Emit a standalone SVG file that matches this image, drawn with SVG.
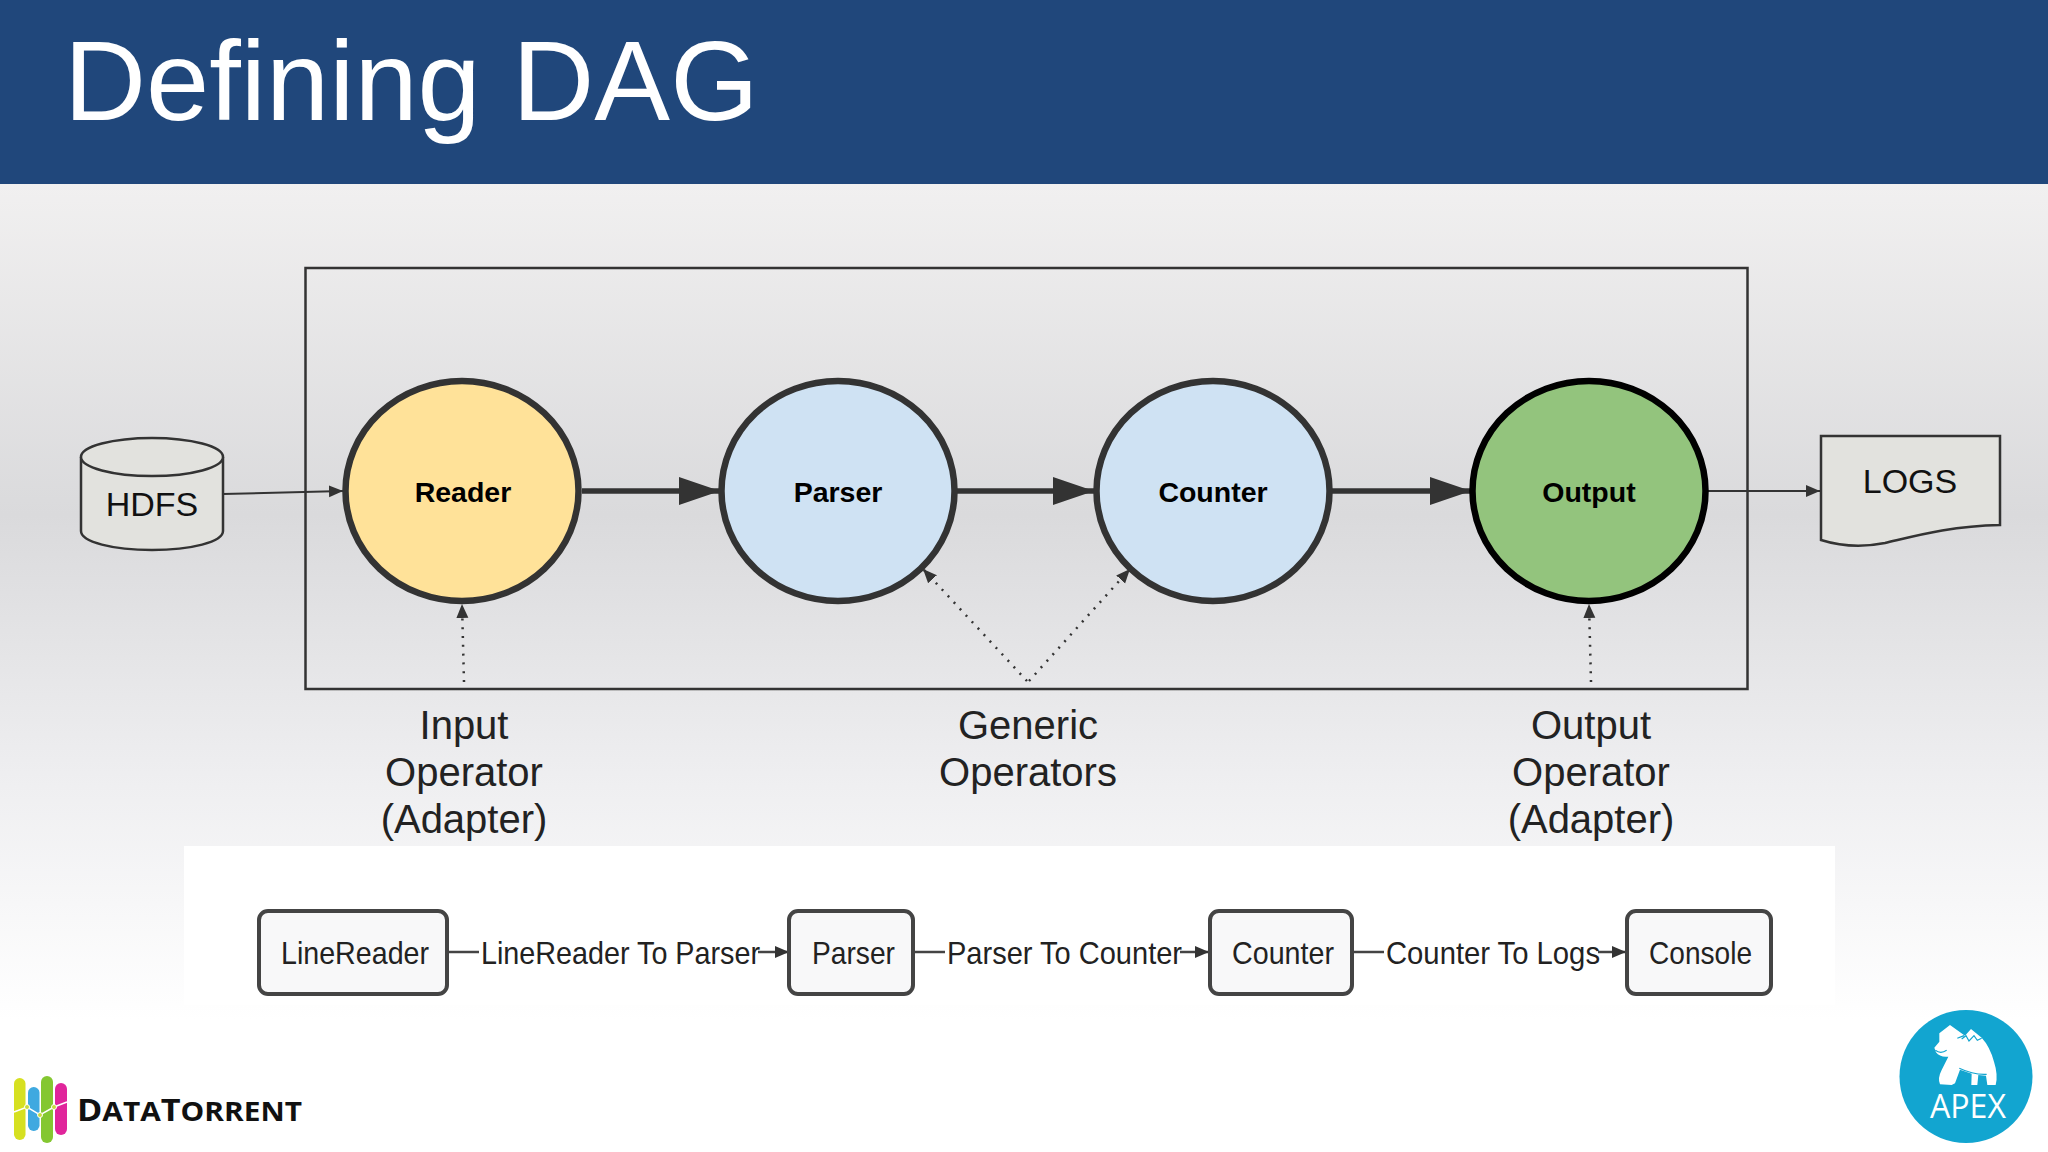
<svg xmlns="http://www.w3.org/2000/svg" width="2048" height="1152" viewBox="0 0 2048 1152">
<style>
text{font-family:"Liberation Sans",Arial,sans-serif;fill:#111}
.op{stroke:#333;stroke-width:6.500}
.opl{font-size:28.500px;font-weight:bold;text-anchor:middle;fill:#000}
.ann{font-size:40px;text-anchor:middle;fill:#222}
.store{fill:#e2e2de;stroke:#333;stroke-width:2.500}
.storel{font-size:34px;text-anchor:middle}
.box{fill:#f8f8f9;stroke:#444;stroke-width:4}
.boxl,.edgel{font-size:32px;fill:#222}
.thick{stroke:#333;stroke-width:5.500;fill:none;marker-end:url(#big)}
.thin{stroke:#333;stroke-width:2;fill:none;marker-end:url(#small)}
.dot{stroke:#333;stroke-width:2.500;fill:none;stroke-dasharray:2 6.800;marker-end:url(#small)}
.lo{stroke:#444;stroke-width:2.500;fill:none}
</style>
<defs>
<linearGradient id="bg" x1="0" y1="184" x2="0" y2="1020" gradientUnits="userSpaceOnUse">
<stop offset="0" stop-color="#f1f0f0"/><stop offset=".396" stop-color="#dadadc"/><stop offset=".72" stop-color="#efeff1"/><stop offset="1" stop-color="#ffffff"/>
</linearGradient>
<marker id="big" markerUnits="userSpaceOnUse" markerWidth="42" markerHeight="30" refX="41" refY="15" orient="auto"><path d="M0,1 L41,15 L0,29 Z" fill="#333"/></marker>
<marker id="small" markerUnits="userSpaceOnUse" markerWidth="15" markerHeight="14" refX="14" refY="7" orient="auto"><path d="M0,1 L14,7 L0,13 Z" fill="#333"/></marker>
</defs>
<rect width="2048" height="1152" fill="#fff"/>
<rect y="184" width="2048" height="836" fill="url(#bg)"/>
<rect width="2048" height="184" fill="#20477b"/>
<text x="64" y="120" font-size="113.600" style="fill:#fff">Defining DAG</text>
<rect x="184" y="846" width="1651" height="159" fill="#fff"/>
<rect x="305.500" y="268" width="1442" height="421" fill="none" stroke="#333" stroke-width="2.500"/>

<g id="connectors">
<line class="thin" x1="223" y1="494" x2="343" y2="491"/>
<line class="thick" x1="582" y1="491" x2="720" y2="491"/>
<line class="thick" x1="956" y1="491" x2="1094" y2="491"/>
<line class="thick" x1="1331" y1="491" x2="1471" y2="491"/>
<line class="thin" x1="1707" y1="491" x2="1820" y2="491"/>
<line class="dot" x1="464" y1="682" x2="462" y2="604"/>
<line class="dot" x1="1027" y1="681" x2="923" y2="569"/>
<line class="dot" x1="1029" y1="681" x2="1130" y2="569"/>
<line class="dot" x1="1591" y1="682" x2="1589" y2="604"/>
<line class="lo" x1="447" y1="952" x2="479" y2="952"/>
<line class="lo" x1="758" y1="952" x2="789" y2="952" marker-end="url(#small)"/>
<line class="lo" x1="913" y1="952" x2="945" y2="952"/>
<line class="lo" x1="1180" y1="952" x2="1209" y2="952" marker-end="url(#small)"/>
<line class="lo" x1="1352" y1="952" x2="1384" y2="952"/>
<line class="lo" x1="1598" y1="952" x2="1626" y2="952" marker-end="url(#small)"/>
</g>

<g id="hdfs">
<path class="store" d="M81,457 V531 C81,542 113,550 152,550 C191,550 223,542 223,531 V457"/>
<ellipse class="store" cx="152" cy="457" rx="71" ry="19"/>
<text class="storel" x="152" y="516">HDFS</text>
</g>
<g id="reader"><ellipse class="op" cx="462" cy="491" rx="116.500" ry="110" fill="#ffe299"/><text class="opl" x="463" y="502">Reader</text></g>
<g id="parser"><ellipse class="op" cx="838" cy="491" rx="116.500" ry="110" fill="#cfe2f3"/><text class="opl" x="838" y="502">Parser</text></g>
<g id="counter"><ellipse class="op" cx="1213" cy="491" rx="116.500" ry="110" fill="#cfe2f3"/><text class="opl" x="1213" y="502">Counter</text></g>
<g id="output"><ellipse cx="1589" cy="491" rx="116.500" ry="110" fill="#93c47d" stroke="#000" stroke-width="6.500"/><text class="opl" x="1589" y="502">Output</text></g>
<g id="logs">
<path class="store" d="M1821,436 H2000 V525 C1950,526 1915,536 1885,543 C1860,548 1840,546 1821,540 Z"/>
<text class="storel" x="1910" y="493">LOGS</text>
</g>

<g id="label-input"><text class="ann" x="464" y="739">Input</text><text class="ann" x="464" y="786">Operator</text><text class="ann" x="464" y="833">(Adapter)</text></g>
<g id="label-generic"><text class="ann" x="1028" y="739">Generic</text><text class="ann" x="1028" y="786">Operators</text></g>
<g id="label-output"><text class="ann" x="1591" y="739">Output</text><text class="ann" x="1591" y="786">Operator</text><text class="ann" x="1591" y="833">(Adapter)</text></g>

<g id="box-linereader"><rect class="box" x="259" y="911" width="188" height="83" rx="9"/><text class="boxl" x="281" y="964" textLength="148" lengthAdjust="spacingAndGlyphs">LineReader</text></g>
<g id="box-parser"><rect class="box" x="789" y="911" width="124" height="83" rx="9"/><text class="boxl" x="812" y="964" textLength="83" lengthAdjust="spacingAndGlyphs">Parser</text></g>
<g id="box-counter"><rect class="box" x="1210" y="911" width="142" height="83" rx="9"/><text class="boxl" x="1232" y="964" textLength="102" lengthAdjust="spacingAndGlyphs">Counter</text></g>
<g id="box-console"><rect class="box" x="1627" y="911" width="144" height="83" rx="9"/><text class="boxl" x="1649" y="964" textLength="103" lengthAdjust="spacingAndGlyphs">Console</text></g>
<text class="edgel" x="481" y="964" textLength="279" lengthAdjust="spacingAndGlyphs">LineReader To Parser</text>
<text class="edgel" x="947" y="964" textLength="235" lengthAdjust="spacingAndGlyphs">Parser To Counter</text>
<text class="edgel" x="1386" y="964" textLength="214" lengthAdjust="spacingAndGlyphs">Counter To Logs</text>

<g id="logo-datatorrent">
<rect x="14" y="1078" width="11.500" height="62" rx="5.700" fill="#d6e021"/>
<rect x="28" y="1087" width="11.500" height="44" rx="5.700" fill="#3fa9e0"/>
<rect x="41" y="1076" width="12" height="67" rx="6" fill="#84c731"/>
<rect x="55" y="1083" width="12" height="52" rx="6" fill="#e0259b"/>
<polyline points="14,1112 27,1107 40,1115 54,1107 67,1102" fill="none" stroke="#fff" stroke-width="1.500"/>
<circle cx="27" cy="1107" r="2.500" fill="#c8dc3c" stroke="#fff"/><circle cx="40" cy="1115" r="2.500" fill="#c8dc3c" stroke="#fff"/><circle cx="54" cy="1107" r="2.500" fill="#c8dc3c" stroke="#fff"/>
<text x="77" y="1121" font-weight="bold" textLength="225" lengthAdjust="spacingAndGlyphs" style="font-family:'Open Sans','Liberation Sans',sans-serif;fill:#111"><tspan font-size="31">D</tspan><tspan font-size="27">ATA</tspan><tspan font-size="31">T</tspan><tspan font-size="27">ORRENT</tspan></text>
</g>
<g id="logo-apex">
<circle cx="1966" cy="1076.500" r="66.500" fill="#12a5d0"/>
<g transform="translate(1900 1015) scale(.3333)">
<path fill="#fff" d="M150,30 L195,62 L213,42 L245,68 Q270,95 282,140 Q295,180 287,210 L262,210 L258,182 L235,180 L232,210 L214,210 L215,176 L180,164 L165,205 L155,210 L120,208 Q112,190 125,165 L145,125 Q120,128 108,112 L103,98 L118,80 L118,55 Z"/>
<path fill="none" stroke="#12a5d0" stroke-width="3.500" d="M185,72 L198,62 L207,78 L222,62 L232,76 L245,70 M106,106 Q122,118 140,106 M178,160 Q220,180 260,178 M172,70 L192,62"/>
</g>
<text x="1930" y="1118" font-size="32" textLength="76" lengthAdjust="spacingAndGlyphs" style="font-family:'Open Sans','Liberation Sans',sans-serif;fill:#fff">APEX</text>
</g>
</svg>
